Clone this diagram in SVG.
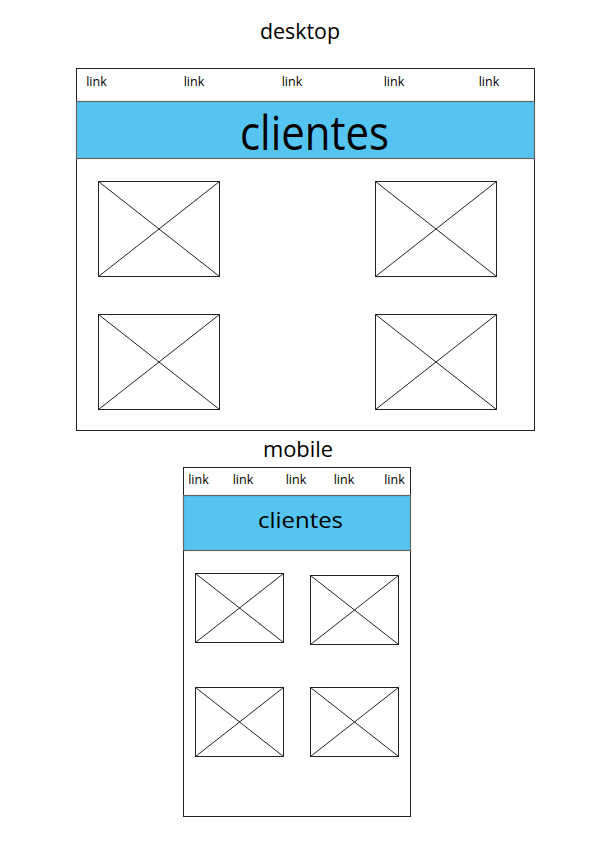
<svg xmlns="http://www.w3.org/2000/svg" width="596" height="842" viewBox="0 0 596 842">
  <style>
    .frame { fill: #ffffff; stroke: #222222; stroke-width: 1; }
    .band { fill: #56c4f0; stroke: #666666; stroke-width: 1.2; }
    .ph rect { fill: #ffffff; stroke: #222222; stroke-width: 1; }
    .ph line { stroke: #222222; stroke-width: 1; }
    text { font-family: "Open Sans", "Noto Sans", sans-serif; fill: #000000; text-anchor: middle; }
    .link { font-size: 12.5px; }
    .title { font-size: 21px; }
  </style>
  <defs>
    <!-- image placeholder: box with two diagonals, 121 x 95 -->
    <g id="ph-lg" class="ph">
      <rect x="0" y="0" width="121" height="95"/>
      <line x1="0" y1="0" x2="121" y2="95"/>
      <line x1="121" y1="0" x2="0" y2="95"/>
    </g>
    <!-- smaller placeholder, 88 x 69 -->
    <g id="ph-sm" class="ph">
      <rect x="0" y="0" width="88" height="69"/>
      <line x1="0" y1="0" x2="88" y2="69"/>
      <line x1="88" y1="0" x2="0" y2="69"/>
    </g>
  </defs>

  <rect width="596" height="842" fill="#ffffff"/>

  <!-- desktop layout -->
  <g id="desktop">
    <text class="title" x="300" y="39" textLength="80" lengthAdjust="spacingAndGlyphs">desktop</text>
    <rect class="frame" x="76.5" y="68.5" width="458" height="362"/>
    <g id="desktop-nav">
      <text class="link" x="96.5" y="86">link</text>
      <text class="link" x="194" y="86">link</text>
      <text class="link" x="292" y="86">link</text>
      <text class="link" x="394" y="86">link</text>
      <text class="link" x="489" y="86">link</text>
    </g>
    <g id="desktop-header">
      <rect class="band" x="76.5" y="101.5" width="458" height="57"/>
      <text x="314.5" y="150" font-size="47" textLength="149" lengthAdjust="spacingAndGlyphs">clientes</text>
    </g>
    <use id="desktop-img-1" href="#ph-lg" x="98.5" y="181.5"/>
    <use id="desktop-img-2" href="#ph-lg" x="375.5" y="181.5"/>
    <use id="desktop-img-3" href="#ph-lg" x="98.5" y="314.5"/>
    <use id="desktop-img-4" href="#ph-lg" x="375.5" y="314.5"/>
  </g>

  <!-- mobile layout -->
  <g id="mobile">
    <text class="title" x="298" y="457" textLength="70" lengthAdjust="spacingAndGlyphs">mobile</text>
    <rect class="frame" x="183.5" y="467.5" width="227" height="349"/>
    <g id="mobile-nav">
      <text class="link" x="198.5" y="484">link</text>
      <text class="link" x="243" y="484">link</text>
      <text class="link" x="296" y="484">link</text>
      <text class="link" x="344" y="484">link</text>
      <text class="link" x="394.5" y="484">link</text>
    </g>
    <g id="mobile-header">
      <rect class="band" x="183.5" y="495.5" width="227" height="55"/>
      <text x="300.5" y="528" font-size="22" textLength="85" lengthAdjust="spacingAndGlyphs">clientes</text>
    </g>
    <use id="mobile-img-1" href="#ph-sm" x="195.5" y="573.5"/>
    <use id="mobile-img-2" href="#ph-sm" x="310.5" y="575.5"/>
    <use id="mobile-img-3" href="#ph-sm" x="195.5" y="687.5"/>
    <use id="mobile-img-4" href="#ph-sm" x="310.5" y="687.5"/>
  </g>
</svg>
